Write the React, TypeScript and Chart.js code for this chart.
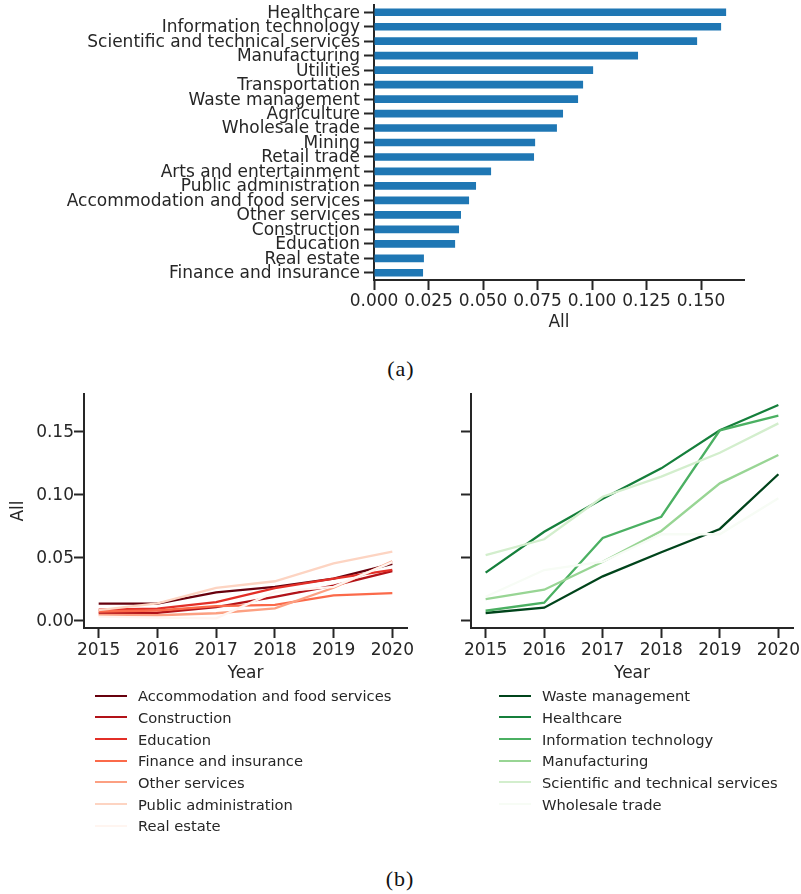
import React, { useEffect, useRef } from "react";
import { Chart, registerables } from "chart.js";

Chart.register(...registerables);

// ---------- Data ----------
const BAR_CATEGORIES = [
  "Healthcare",
  "Information technology",
  "Scientific and technical services",
  "Manufacturing",
  "Utilities",
  "Transportation",
  "Waste management",
  "Agriculture",
  "Wholesale trade",
  "Mining",
  "Retail trade",
  "Arts and entertainment",
  "Public administration",
  "Accommodation and food services",
  "Other services",
  "Construction",
  "Education",
  "Real estate",
  "Finance and insurance",
];
const BAR_VALUES = [
  0.1615, 0.1592, 0.1482, 0.1211, 0.1005, 0.0959, 0.0936, 0.0867, 0.0839, 0.0739,
  0.0734, 0.0537, 0.0468, 0.0436, 0.0399, 0.039, 0.0372, 0.0229, 0.0225,
];
const BAR_X_TICKS = [0, 0.025, 0.05, 0.075, 0.1, 0.125, 0.15];

const YEARS = [2015, 2016, 2017, 2018, 2019, 2020];
const LINE_Y_TICKS = [0, 0.05, 0.1, 0.15];

// Red panel series
const RED_NAMES = [
  "Accommodation and food services",
  "Construction",
  "Education",
  "Finance and insurance",
  "Other services",
  "Public administration",
  "Real estate",
];
const ACCOMMODATION = [0.0132, 0.0132, 0.0222, 0.0266, 0.033, 0.0448];
const CONSTRUCTION = [0.0058, 0.006, 0.0105, 0.0186, 0.0275, 0.039];
const EDUCATION = [0.0085, 0.0092, 0.0145, 0.0255, 0.033, 0.04];
const FINANCE = [0.007, 0.0078, 0.0112, 0.0122, 0.0198, 0.0216];
const OTHER_SERVICES = [0.0042, 0.004, 0.0056, 0.0095, 0.0258, 0.0468];
const PUBLIC_ADMIN = [0.008, 0.0135, 0.0258, 0.031, 0.0452, 0.0545];
const REAL_ESTATE = [0.003, 0.0022, 0.0016, 0.0225, 0.0265, 0.0462];
const RED_VALUES = [ACCOMMODATION, CONSTRUCTION, EDUCATION, FINANCE, OTHER_SERVICES, PUBLIC_ADMIN, REAL_ESTATE];
const RED_COLORS = ["#67000d", "#b21218", "#e32f27", "#fb6a4a", "#fca082", "#fdd4c2", "#fff5f0"];

// Green panel series
const GREEN_NAMES = [
  "Waste management",
  "Healthcare",
  "Information technology",
  "Manufacturing",
  "Scientific and technical services",
  "Wholesale trade",
];
const WASTE = [0.0058, 0.01, 0.0349, 0.054, 0.0725, 0.1159];
const HEALTHCARE = [0.0378, 0.0703, 0.0965, 0.1206, 0.1508, 0.1709];
const INFO_TECH = [0.0076, 0.014, 0.0653, 0.0822, 0.1508, 0.1624];
const MANUFACTURING = [0.0169, 0.0243, 0.0465, 0.0709, 0.1087, 0.1312];
const SCIENTIFIC = [0.0518, 0.0643, 0.0981, 0.114, 0.133, 0.1563];
const WHOLESALE = [0.0187, 0.0399, 0.0465, 0.0683, 0.0683, 0.0968];
const GREEN_VALUES = [WASTE, HEALTHCARE, INFO_TECH, MANUFACTURING, SCIENTIFIC, WHOLESALE];
const GREEN_COLORS = ["#00441b", "#157f3b", "#4bb062", "#98d594", "#d3eecd", "#f7fcf5"];

// ---------- Styles ----------
const INK = "#262626";
const FONT = "DejaVu Sans";
const tickFont = { family: FONT, size: 17 };

function zeroPad(s: any) {
  s.paddingLeft = 0;
  s.paddingRight = 0;
  s.paddingTop = 0;
  s.paddingBottom = 0;
}

const gridStyle = {
  drawOnChartArea: false,
  drawTicks: true,
  tickLength: 10,
  tickWidth: 2,
  tickColor: INK,
  offset: false,
};
const borderStyle = { display: true, color: INK, width: 2 };

function BarChart() {
  const ref = useRef<HTMLCanvasElement | null>(null);
  useEffect(() => {
    const chart = new Chart(ref.current as HTMLCanvasElement, {
      type: "bar",
      data: {
        labels: BAR_CATEGORIES,
        datasets: [
          {
            data: BAR_VALUES,
            backgroundColor: "#1f77b4",
            borderWidth: 0,
            barPercentage: 0.53,
            categoryPercentage: 1,
          },
        ],
      },
      options: {
        indexAxis: "y",
        animation: false,
        responsive: false,
        devicePixelRatio: 1,
        layout: { padding: { left: 0, right: 57, top: 5, bottom: 0 } },
        plugins: { legend: { display: false }, tooltip: { enabled: false } },
        scales: {
          x: {
            type: "linear",
            min: 0,
            max: 0.1697,
            afterBuildTicks: (s: any) => {
              s.ticks = BAR_X_TICKS.map((v) => ({ value: v }));
            },
            afterFit: (s: any) => {
              s.height = 60;
              zeroPad(s);
            },
            ticks: {
              callback: (v: any) => Number(v).toFixed(3),
              font: tickFont,
              color: INK,
              padding: 1,
              autoSkip: false,
              maxRotation: 0,
              minRotation: 0,
            },
            grid: gridStyle,
            border: borderStyle,
            title: {
              display: true,
              text: "All",
              font: tickFont,
              color: INK,
              padding: { top: 0, bottom: 7 },
            },
          },
          y: {
            afterFit: (s: any) => {
              s.width = 374;
              zeroPad(s);
            },
            ticks: { font: tickFont, color: INK, padding: 4, autoSkip: false, labelOffset: 1 },
            grid: gridStyle,
            border: borderStyle,
          },
        },
      },
    } as any);
    return () => chart.destroy();
  }, []);
  return (
    <canvas
      ref={ref}
      width={801}
      height={340}
      style={{ position: "absolute", left: 0, top: 0, width: 801, height: 340 }}
    />
  );
}

function LineChart(props: {
  names: string[];
  values: number[][];
  colors: string[];
  left: number;
  width: number;
  axisWidth: number;
  padRight: number;
  showYLabels: boolean;
}) {
  const ref = useRef<HTMLCanvasElement | null>(null);
  useEffect(() => {
    const datasets = props.names.map((name, i) => ({
      label: name,
      data: YEARS.map((yr, j) => ({ x: yr, y: props.values[i][j] })),
      borderColor: props.colors[i],
      backgroundColor: props.colors[i],
      borderWidth: 2.3,
      pointRadius: 0,
      tension: 0,
      fill: false,
      order: -i,
    }));
    const chart = new Chart(ref.current as HTMLCanvasElement, {
      type: "line",
      data: { datasets },
      options: {
        animation: false,
        responsive: false,
        devicePixelRatio: 1,
        layout: { padding: { left: 0, right: props.padRight, top: 14, bottom: 0 } },
        plugins: { legend: { display: false }, tooltip: { enabled: false } },
        scales: {
          x: {
            type: "linear",
            min: 2014.75,
            max: 2020.25,
            afterBuildTicks: (s: any) => {
              s.ticks = YEARS.map((v) => ({ value: v }));
            },
            afterFit: (s: any) => {
              s.height = 62;
              zeroPad(s);
            },
            ticks: {
              callback: (v: any) => String(v),
              font: tickFont,
              color: INK,
              padding: 2.5,
              autoSkip: false,
              maxRotation: 0,
              minRotation: 0,
            },
            grid: gridStyle,
            border: borderStyle,
            title: {
              display: true,
              text: "Year",
              font: tickFont,
              color: INK,
              padding: { top: 0, bottom: 6 },
            },
          },
          y: {
            type: "linear",
            min: -0.0061,
            max: 0.1796,
            afterBuildTicks: (s: any) => {
              s.ticks = LINE_Y_TICKS.map((v) => ({ value: v }));
            },
            afterFit: (s: any) => {
              s.width = props.axisWidth;
              zeroPad(s);
            },
            ticks: {
              callback: (v: any) => (props.showYLabels ? Number(v).toFixed(2) : ""),
              font: tickFont,
              color: INK,
              padding: 0,
              autoSkip: false,
              labelOffset: 1,
            },
            grid: gridStyle,
            border: borderStyle,
            title: {
              display: props.showYLabels,
              text: "All",
              font: tickFont,
              color: INK,
              padding: { top: 8, bottom: 0 },
            },
          },
        },
      },
    } as any);
    return () => chart.destroy();
  }, []);
  return (
    <canvas
      ref={ref}
      width={props.width}
      height={310}
      style={{ position: "absolute", left: props.left, top: 380, width: props.width, height: 310 }}
    />
  );
}

function Legend(props: { names: string[]; colors: string[]; left: number }) {
  return (
    <div style={{ position: "absolute", left: props.left, top: 684.85 }}>
      {props.names.map((n, i) => (
        <div
          key={n}
          style={{
            height: 21.7,
            display: "flex",
            alignItems: "center",
            fontFamily: FONT,
            fontSize: 14.7,
            color: INK,
            whiteSpace: "nowrap",
          }}
        >
          <div style={{ width: 32, height: 2, background: props.colors[i], marginRight: 11 }} />
          <span>{n}</span>
        </div>
      ))}
    </div>
  );
}

const captionStyle: React.CSSProperties = {
  position: "absolute",
  width: 100,
  height: 30,
  lineHeight: "30px",
  textAlign: "center",
  fontFamily: "Liberation Serif",
  fontSize: 22,
  letterSpacing: 1,
  color: "#111",
};

export default function App() {
  return (
    <div
      style={{
        position: "absolute",
        left: 0,
        top: 0,
        width: 801,
        height: 894,
        background: "#fff",
        overflow: "hidden",
      }}
    >
      <BarChart />
      <div style={{ ...captionStyle, left: 351, top: 354 }}>(a)</div>
      <LineChart
        names={RED_NAMES}
        values={RED_VALUES}
        colors={RED_COLORS}
        left={0}
        width={420}
        axisWidth={84}
        padRight={13}
        showYLabels={true}
      />
      <LineChart
        names={GREEN_NAMES}
        values={GREEN_VALUES}
        colors={GREEN_COLORS}
        left={420}
        width={381}
        axisWidth={51}
        padRight={8}
        showYLabels={false}
      />
      <Legend names={RED_NAMES} colors={RED_COLORS} left={95} />
      <Legend names={GREEN_NAMES} colors={GREEN_COLORS} left={499} />
      <div style={{ ...captionStyle, left: 350, top: 864 }}>(b)</div>
    </div>
  );
}
